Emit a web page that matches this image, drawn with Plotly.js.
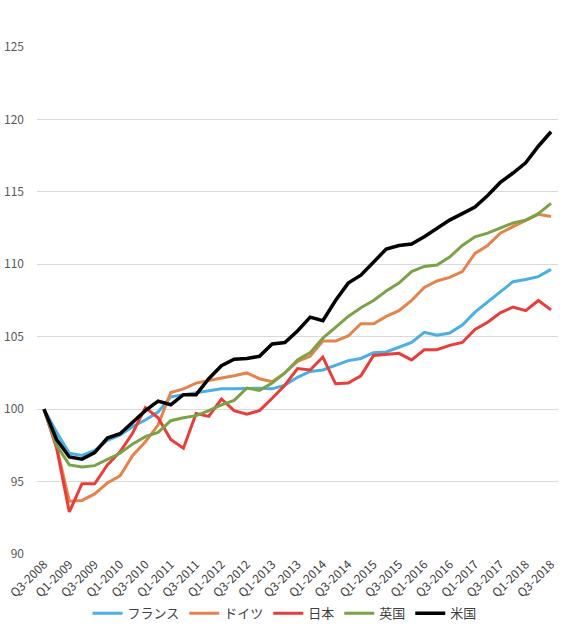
<!DOCTYPE html>
<html>
<head>
<meta charset="utf-8">
<script src="https://cdn.plot.ly/plotly-3.0.1.min.js"></script>
<style>html,body{margin:0;padding:0;background:#fff;}#chart{width:573px;height:627px;}</style>
</head>
<body>
<div id="chart"></div>
<script>
const quarters = [];
(function(){ let q = 3, y = 2008; for (let i = 0; i < 41; i++) { quarters.push('Q' + q + '-' + y); q++; if (q > 4) { q = 1; y++; } } })();
const tickLabels = quarters.filter((_, i) => i % 2 === 0);

const seriesNames = ['フランス', 'ドイツ', '日本', '英国', '米国'];

const france = [100, 98.4, 96.95, 96.8, 97.15, 97.85, 98.2, 98.8, 99.25, 99.8,
  100.85, 101.0, 101.15, 101.3, 101.4, 101.4, 101.45, 101.45, 101.4, 101.65,
  102.2, 102.6, 102.7, 103.05, 103.35, 103.5, 103.9, 103.95, 104.3, 104.6,
  105.3, 105.1, 105.25, 105.8, 106.7, 107.4, 108.1, 108.8, 108.95, 109.15, 109.65];
const germany = [100, 97.4, 93.65, 93.7, 94.15, 94.9, 95.4, 96.8, 97.75, 98.9,
  101.15, 101.4, 101.8, 102.0, 102.15, 102.3, 102.5, 102.1, 101.9, 102.5,
  103.3, 103.65, 104.7, 104.7, 105.05, 105.9, 105.9, 106.4, 106.8, 107.5,
  108.4, 108.85, 109.1, 109.5, 110.75, 111.3, 112.15, 112.6, 113.05, 113.45, 113.3];
const japan = [100, 97.3, 92.9, 94.85, 94.85, 96.15, 97.05, 98.35, 100.1, 99.4,
  97.9, 97.3, 99.7, 99.5, 100.7, 99.9, 99.65, 99.9, 100.75, 101.65,
  102.8, 102.7, 103.6, 101.75, 101.8, 102.3, 103.7, 103.8, 103.85, 103.4,
  104.1, 104.1, 104.4, 104.6, 105.5, 106.0, 106.65, 107.05, 106.8, 107.5, 106.85];
const uk = [100, 97.5, 96.15, 96.0, 96.1, 96.5, 96.95, 97.6, 98.1, 98.4,
  99.2, 99.4, 99.55, 99.9, 100.3, 100.6, 101.45, 101.3, 101.8, 102.5,
  103.4, 103.9, 104.9, 105.65, 106.4, 107.0, 107.5, 108.15, 108.7, 109.5,
  109.85, 109.95, 110.5, 111.3, 111.9, 112.15, 112.5, 112.85, 113.05, 113.5, 114.2];
const us = [100, 97.9, 96.7, 96.55, 97.0, 98.0, 98.3, 99.1, 99.9, 100.55,
  100.3, 101.0, 101.0, 102.1, 103.0, 103.45, 103.5, 103.65, 104.5, 104.6,
  105.4, 106.35, 106.1, 107.5, 108.7, 109.25, 110.15, 111.05, 111.3, 111.4,
  111.9, 112.5, 113.05, 113.5, 113.95, 114.75, 115.65, 116.3, 117.0, 118.15, 119.15];

const seriesValues = [france, germany, japan, uk, us];
const colors = ['#4aaee7', '#e4844c', '#e93d3a', '#7aa348', '#000000'];
const widths = [3, 3, 3, 3, 3.5];

const traces = seriesValues.map((vals, k) => ({
  type: 'scatter', mode: 'lines', name: seriesNames[k],
  x: quarters, y: vals,
  line: { color: colors[k], width: widths[k] },
  hoverinfo: 'skip'
}));

const fam = '"Noto Sans CJK JP", "DejaVu Sans", sans-serif';

const layout = {
  width: 573, height: 627,
  margin: { l: 37, r: 15, t: 47, b: 73, pad: 0, autoexpand: false },
  paper_bgcolor: '#ffffff', plot_bgcolor: '#ffffff',
  font: { family: fam, size: 12, color: '#595959' },
  showlegend: true,
  legend: {
    orientation: 'h', x: 0.475, xanchor: 'center',
    yref: 'container', y: 0.022, yanchor: 'middle',
    font: { family: fam, size: 13, color: '#404040' },
    itemwidth: 30, tracegroupgap: 0, bgcolor: 'rgba(0,0,0,0)'
  },
  xaxis: {
    type: 'category', categoryorder: 'array', categoryarray: quarters,
    range: [-0.55, 40.55], automargin: false,
    tickmode: 'array', tickvals: tickLabels, ticktext: tickLabels,
    tickangle: -45, showgrid: false, zeroline: false, showline: false,
    ticks: '', tickfont: { family: fam, size: 12, color: '#404040' },
    fixedrange: true
  },
  yaxis: {
    range: [90, 125], automargin: false,
    tickmode: 'array', tickvals: [90, 95, 100, 105, 110, 115, 120, 125],
    showgrid: true, gridcolor: '#d9d9d9', gridwidth: 1, zeroline: false, showline: false,
    ticks: '', ticklabelstandoff: 12,
    tickfont: { family: fam, size: 12, color: '#595959' },
    fixedrange: true
  }
};

Plotly.newPlot('chart', traces, layout, { displayModeBar: false, staticPlot: true });
</script>
</body>
</html>
